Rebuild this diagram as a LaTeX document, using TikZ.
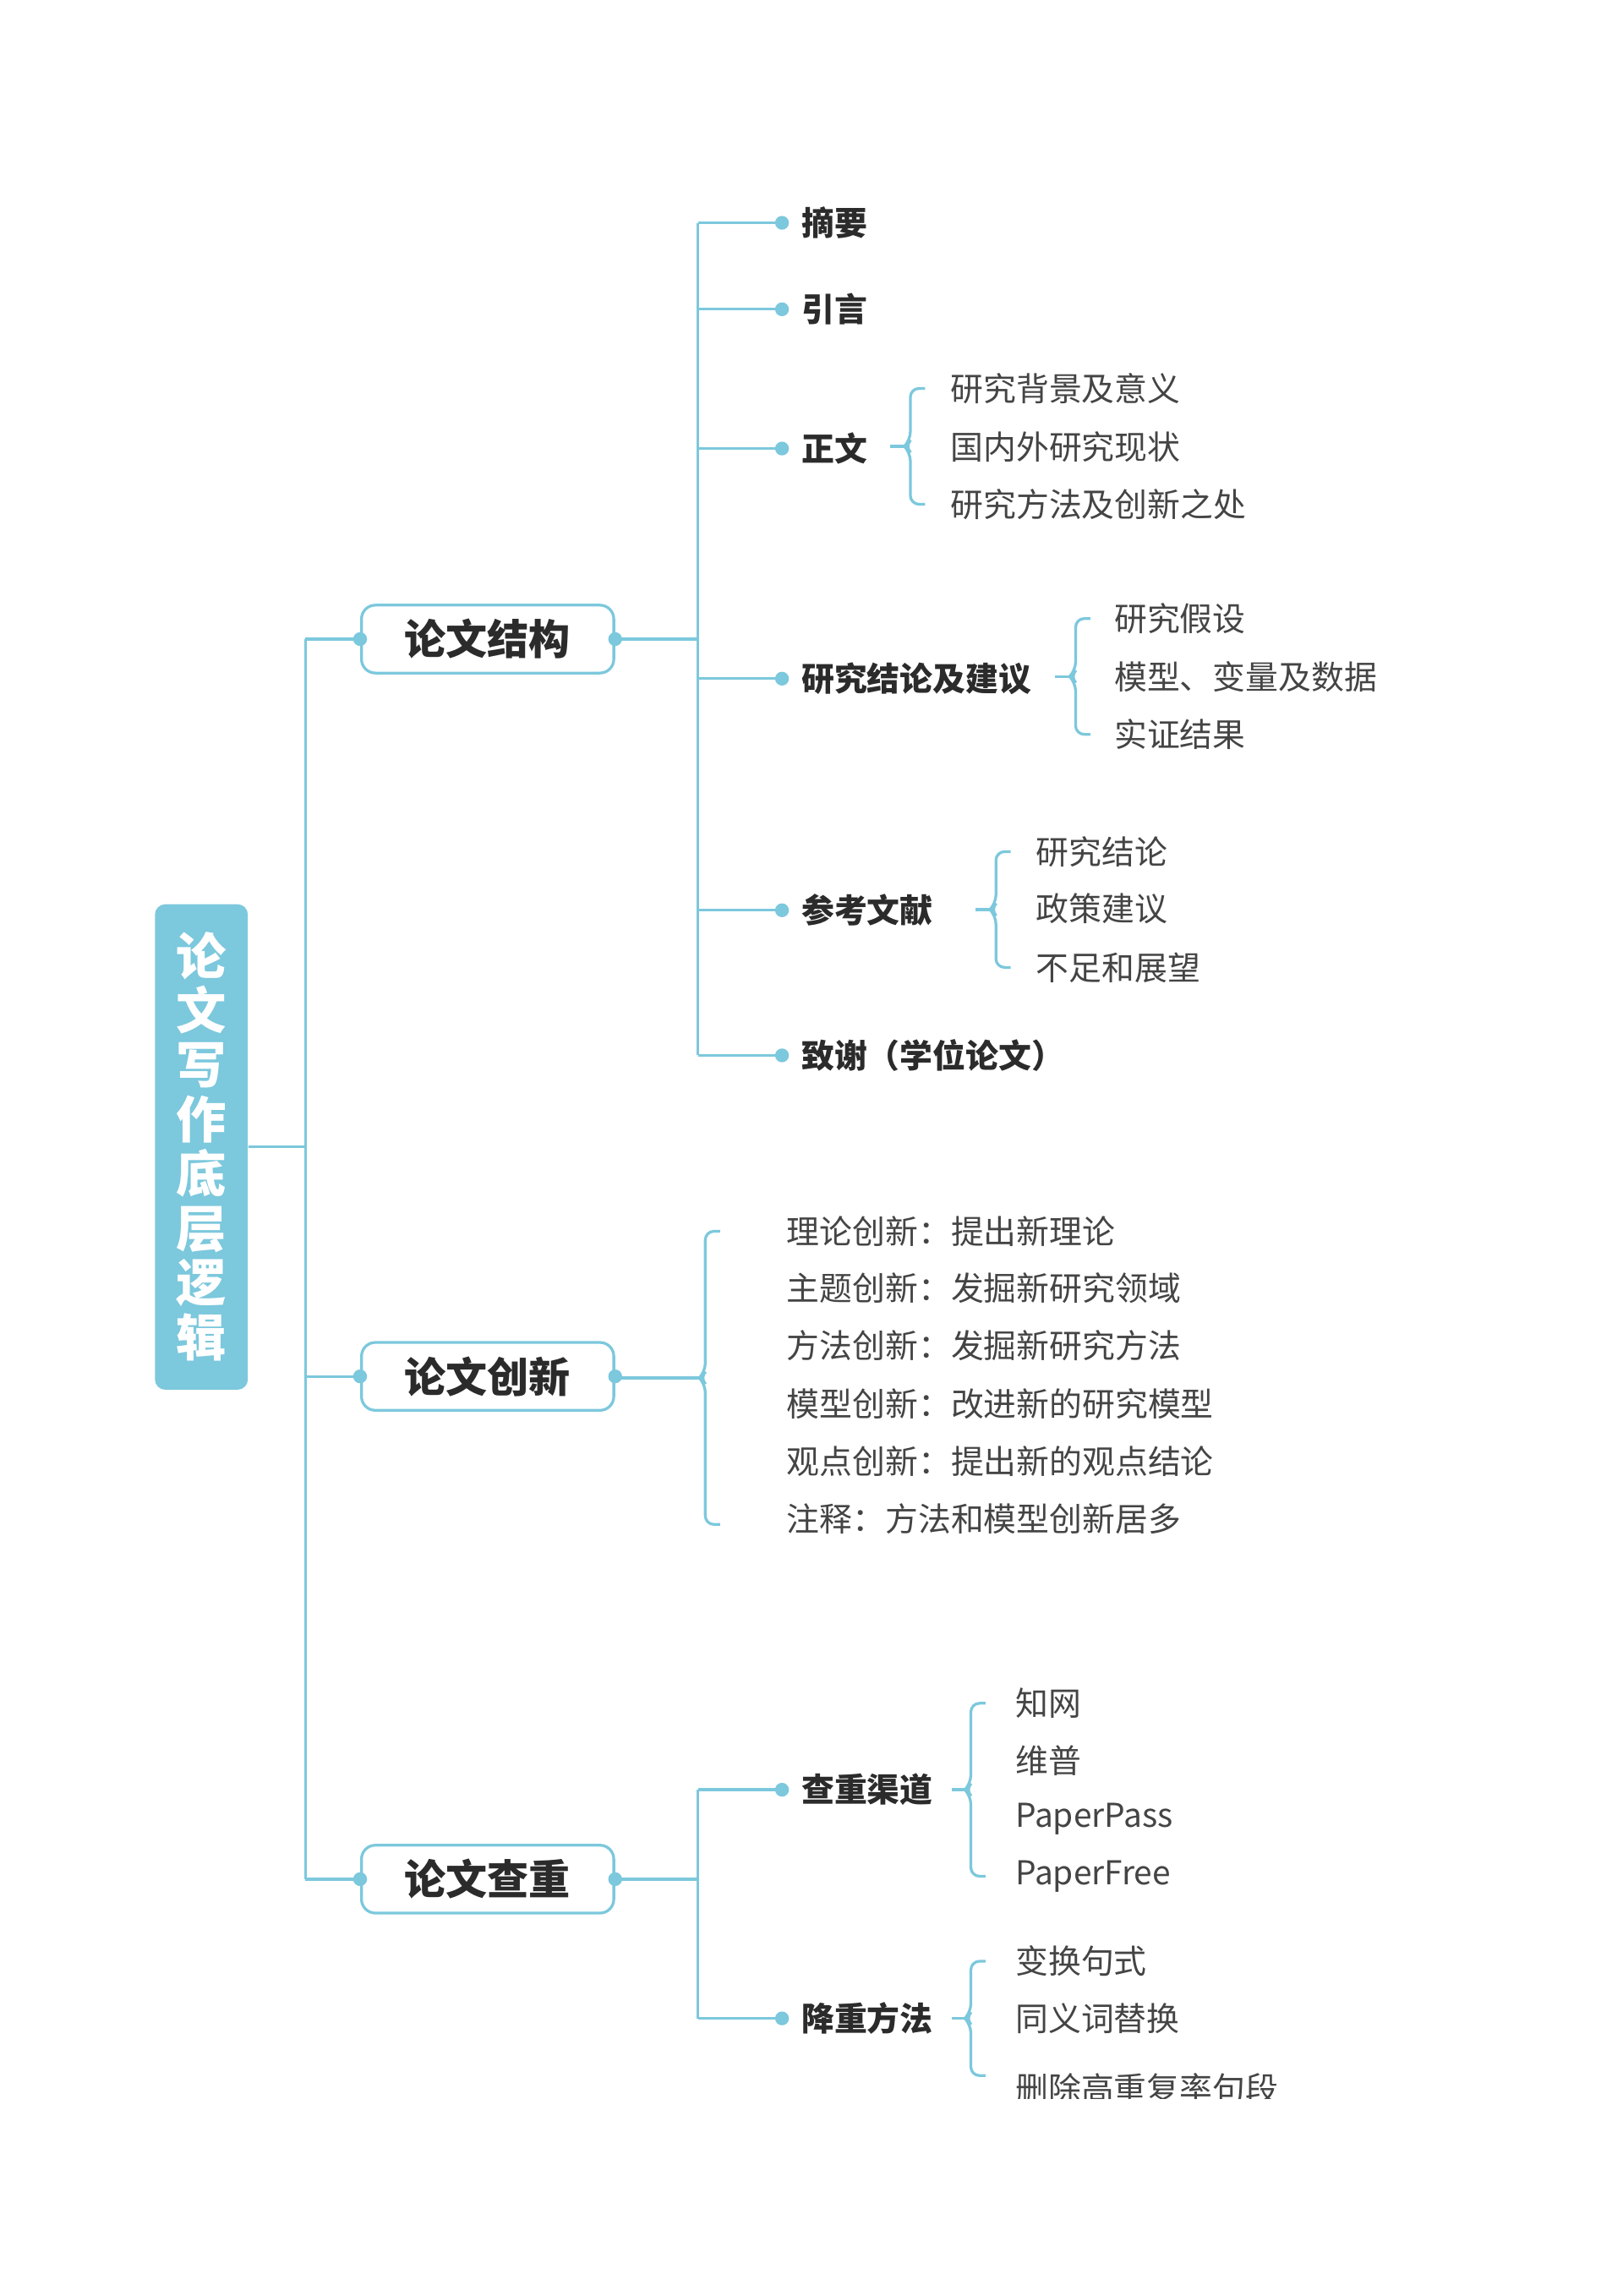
\documentclass[tikz,border=0pt]{standalone}
\usepackage{fontspec}
\setmainfont{Noto Sans CJK SC}
\begin{document}
\begin{tikzpicture}[x=0.03cm,y=-0.0298cm,
  ln/.style={draw=lb,line width=1.6pt},
  dot/.style={circle,fill=lb,inner sep=0pt,minimum size=8pt},
  lone/.style={draw=lb,line width=1.6pt,rounded corners=8pt,fill=white,minimum width=171*0.03cm,minimum height=46*0.03cm,font=\fontsize{24}{28}\selectfont\bfseries,text=tx},
  kid/.style={anchor=west,inner sep=0pt,font=\fontsize{19}{24}\selectfont\bfseries,text=tx},
  leaf/.style={anchor=west,inner sep=0pt,font=\fontsize{19}{23}\selectfont,text=tx2}]
\definecolor{lb}{HTML}{7CC8DD}
\definecolor{tx}{HTML}{2B2B2B}
\definecolor{tx2}{HTML}{444444}
\useasboundingbox (0,0) rectangle (1100,1566.4);
\newcommand{\brk}[4]{% x, top, bottom, stem-start-x
  \draw[ln] (#4,{(#2+#3)/2}) -- (#1-4,{(#2+#3)/2});
  \draw[ln,rounded corners=5pt] (#1+10,#2) -- (#1,#2) -- (#1,{(#2+#3)/2-4}) -- (#1-4,{(#2+#3)/2}) -- (#1,{(#2+#3)/2+4}) -- (#1,#3) -- (#1+10,#3);}
% root
\node[fill=lb,rounded corners=6pt,minimum width=63*0.03cm,minimum height=329*0.03cm,inner sep=0pt] (root) at (136.5,782.5) {};
\node[text=white,font=\fontsize{29}{31.5}\selectfont\bfseries,align=center] (rt) at (136.5,782) {论\\文\\写\\作\\底\\层\\逻\\辑};
\coordinate (t1) at (207,436); \coordinate (t3) at (207,1282);
\draw[ln] (root.east) -- (207,782.5);
\draw[ln] (t1) -- (t3);
% level 1
\node[lone] (a) at (330.5,436) {论文结构};
\node[lone] (b) at (330.5,939) {论文创新};
\node[lone] (c) at (330.5,1282) {论文查重};
\foreach \n/\y in {a/436,b/939,c/1282}{
  \draw[ln] (207,\y) -- (\n.west);
  \node[dot] at (\n.west) {}; \node[dot] at (\n.east) {};}
% structure
\draw[ln] (a.east) -- (473,436);
\draw[ln] (473,152) -- (473,720);
\foreach \y/\t/\nm in {152/摘要/k1,211/引言/k2,306/正文/k3,463/研究结论及建议/k4,621/参考文献/k5,720/致谢（学位论文）/k6}{
  \draw[ln] (473,\y) -- (530,\y); \node[dot] at (530,\y) {};
  \node[kid] (\nm) at (543,\y) {\t};}
\brk{617}{265}{344}{603}
\node[leaf] (l1) at (644,265) {研究背景及意义};
\node[leaf] (l2) at (644,305) {国内外研究现状};
\node[leaf] (l3) at (644,344) {研究方法及创新之处};
\brk{729}{422}{501}{715}
\node[leaf] (m1) at (755,422) {研究假设};
\node[leaf] (m2) at (755,462) {模型、变量及数据};
\node[leaf] (m3) at (755,501) {实证结果};
\brk{675}{581}{660}{661}
\node[leaf] (n1) at (702,581) {研究结论};
\node[leaf] (n2) at (702,620) {政策建议};
\node[leaf] (n3) at (702,660) {不足和展望};
% innovation
\draw[ln] (b.east) -- (420,939);
\brk{478}{840}{1040}{420}
\foreach \y/\t/\nm in {840/理论创新：提出新理论/i1,879/主题创新：发掘新研究领域/i2,918/方法创新：发掘新研究方法/i3,958/模型创新：改进新的研究模型/i4,997/观点创新：提出新的观点结论/i5,1036/注释：方法和模型创新居多/i6}{
  \node[leaf] (\nm) at (533,\y) {\t};}
% check
\draw[ln] (c.east) -- (473,1282);
\draw[ln] (473,1221) -- (473,1377);
\foreach \y/\t/\nm in {1221/查重渠道/q1,1377/降重方法/q2}{
  \draw[ln] (473,\y) -- (530,\y); \node[dot] at (530,\y) {};
  \node[kid] (\nm) at (543,\y) {\t};}
\brk{658}{1162}{1280}{645}
\node[leaf] (p1) at (688,1162) {知网};
\node[leaf] (p2) at (688,1201) {维普};
\node[leaf] (p3) at (688,1241) {PaperPass};
\node[leaf] (p4) at (688,1280) {PaperFree};
\begin{scope}
\clip (0,0) rectangle (1100,1432);
\brk{658}{1338}{1416}{645}
\node[leaf] (r1) at (688,1338) {变换句式};
\node[leaf] (r2) at (688,1377) {同义词替换};
\node[leaf] (r3) at (688,1425) {删除高重复率句段};
\end{scope}
\end{tikzpicture}
\end{document}
